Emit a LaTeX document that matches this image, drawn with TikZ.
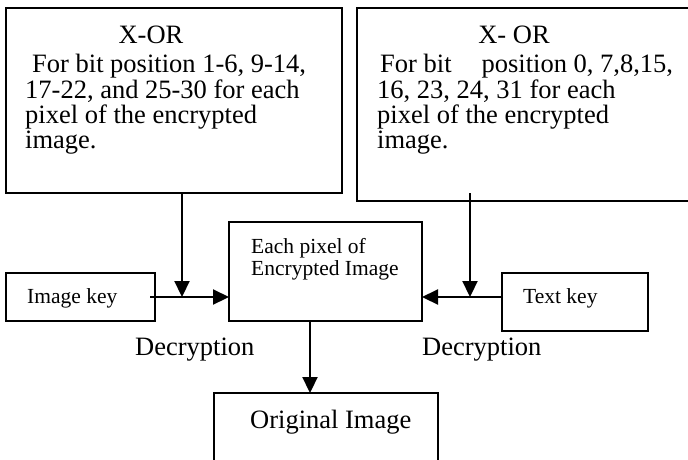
\documentclass[tikz,border=0pt]{standalone}
\usepackage{fontspec}
\setmainfont{Liberation Serif}
\usetikzlibrary{arrows.meta}
\begin{document}
\begin{tikzpicture}[x=1pt,y=-1pt,
  box/.style={draw,line width=1.8pt,inner sep=0pt,outer sep=0pt,anchor=north west},
  big/.style={font=\fontsize{26.5}{26}\selectfont,inner sep=0pt,anchor=base west},
  small/.style={font=\fontsize{21.5}{22}\selectfont,inner sep=0pt,anchor=base west},
  arr/.style={line width=2.2pt,-{Triangle[length=16pt,width=15pt]}}]
\useasboundingbox (0,0) rectangle (688,459);
\begin{scope}
\clip (0,0) rectangle (688,459);
% boxes
\node[box,minimum width=336pt,minimum height=185pt] (xor1) at (6,8) {};
\node[box,minimum width=345pt,minimum height=193pt] (xor2) at (357,8) {};
\node[box,minimum width=193pt,minimum height=99pt] (pix) at (229,222) {};
\node[box,minimum width=149pt,minimum height=48pt] (ikey) at (6,273) {};
\node[box,minimum width=146pt,minimum height=58pt] (tkey) at (502,273) {};
\node[box,minimum width=224pt,minimum height=80pt] (orig) at (214,393) {};
\end{scope}
% texts of box 1
\node[big,anchor=base] (t1a) at (151,43) {X-OR};
\node[big] (t1b) at (32,72) {For bit position 1-6, 9-14,};
\node[big] (t1c) at (25,98) {17-22, and 25-30 for each};
\node[big] (t1d) at (25,123) {pixel of the encrypted};
\node[big] (t1e) at (25,148) {image.};
% texts of box 2
\node[big,anchor=base] (t2a) at (514,43) {X- OR};
\node[big] (t2b) at (380,72) {For bit\hspace{30pt}position 0, 7,8,15,};
\node[big] (t2c) at (377,98) {16, 23, 24, 31 for each};
\node[big] (t2d) at (377,123) {pixel of the encrypted};
\node[big] (t2e) at (377,148) {image.};
% centre box
\node[small] (p1) at (251,253) {Each pixel of};
\node[small] (p2) at (251,275) {Encrypted Image};
% keys
\node[small] (ik) at (27,303) {Image key};
\node[small] (tk) at (523,303) {Text key};
% decryption labels
\node[big] (d1) at (135,355) {Decryption};
\node[big] (d2) at (422,355) {Decryption};
% original
\node[big] (o1) at (250,428) {Original Image};
% connectors
\coordinate (j1) at (182,297);
\coordinate (j2) at (470,297);
\coordinate (s1) at (150,297);
\coordinate (s2) at (503,297);
\coordinate (v2) at (470,193);
\draw[arr] (xor1.south -| j1) -- (j1);
\draw[arr] (v2) -- (j2);
\draw[arr] (s1) -- (pix.west |- s1);
\draw[arr] (s2) -- (pix.east |- s2);
\draw[arr] (pix.south -| 310,0) -- (orig.north -| 310,0);
\end{tikzpicture}
\end{document}
